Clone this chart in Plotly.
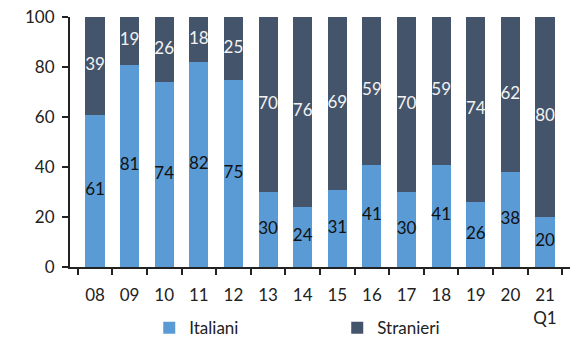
import plotly.graph_objects as go

categories = ["08", "09", "10", "11", "12", "13", "14", "15", "16", "17", "18", "19", "20", "21<br>Q1"]
italiani = [61, 81, 74, 82, 75, 30, 24, 31, 41, 30, 41, 26, 38, 20]
stranieri = [39, 19, 26, 18, 25, 70, 76, 69, 59, 70, 59, 74, 62, 80]
y_ticks = [0, 20, 40, 60, 80, 100]

c_ita = "#5B9BD5"
c_str = "#44546A"
font = "Lato, Liberation Sans, sans-serif"

fig = go.Figure()
fig.add_trace(go.Bar(x=categories, y=italiani, name="Italiani", marker=dict(color=c_ita, line=dict(width=0))))
fig.add_trace(go.Bar(x=categories, y=stranieri, name="Stranieri", marker=dict(color=c_str, line=dict(width=0))))

# labels centered in each segment
ita_mid = [v / 2 for v in italiani]
str_mid = [a + b / 2 for a, b in zip(italiani, stranieri)]
fig.add_trace(go.Scatter(x=categories, y=ita_mid, mode="text", text=[str(v) for v in italiani],
                         textfont=dict(color="#111111", size=17, family=font), showlegend=False, hoverinfo="skip"))
fig.add_trace(go.Scatter(x=categories, y=str_mid, mode="text", text=[str(v) for v in stranieri],
                         textfont=dict(color="#F2F2F2", size=17, family=font), showlegend=False, hoverinfo="skip"))

fig.update_layout(
    width=574, height=338,
    barmode="stack", bargap=0.45,
    margin=dict(l=70, r=4, t=17, b=71, autoexpand=False),
    paper_bgcolor="white", plot_bgcolor="white",
    font=dict(family=font, size=17, color="#222222"),
    legend=dict(orientation="h", xref="container", yref="paper", x=0.26, y=-0.245,
                xanchor="left", yanchor="middle", traceorder="normal", bgcolor="rgba(0,0,0,0)",
                entrywidth=143, font=dict(size=17), itemsizing="constant"),
    xaxis=dict(showline=True, linecolor="#222222", linewidth=2, ticks="outside", ticklen=6,
               tickcolor="#222222", tickwidth=2, tickson="boundaries", showgrid=False,
               ticklabelstandoff=12),
    yaxis=dict(range=[0, 100], tickvals=y_ticks, showline=True, linecolor="#222222", linewidth=2,
               ticks="outside", ticklen=6, tickcolor="#222222", tickwidth=2, showgrid=False,
               zeroline=False, ticklabelstandoff=4),
)

fig.write_html("out.html")
